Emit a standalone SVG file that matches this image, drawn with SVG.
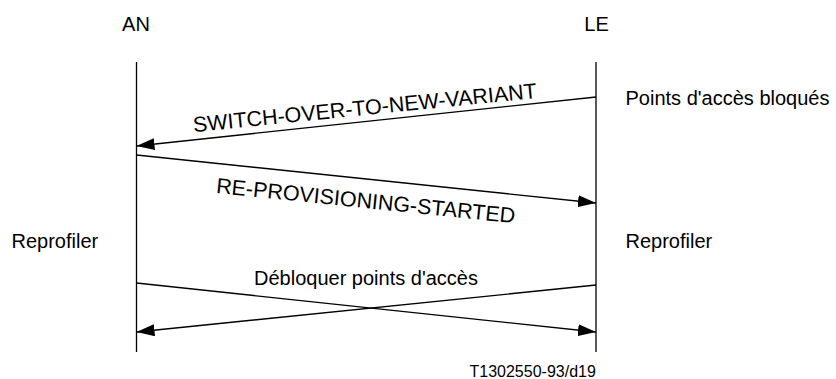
<svg xmlns="http://www.w3.org/2000/svg" width="836" height="379" viewBox="0 0 836 379">
  <defs>
    <marker id="arrow" viewBox="0 0 18 12" refX="18" refY="6" markerWidth="18" markerHeight="12" markerUnits="userSpaceOnUse" orient="auto">
      <path d="M0,0 L18,6 L0,12 Z" fill="#000"/>
    </marker>
    <style>
      text { font-family: "Liberation Sans", Arial, sans-serif; fill: #000; }
      .lbl { font-size: 20px; }
      .msg { font-size: 21.5px; }
      .ref { font-size: 16px; }
      .life { stroke: #000; stroke-width: 1.3; fill: none; }
      .conn { stroke: #000; stroke-width: 1.3; fill: none; marker-end: url(#arrow); }
    </style>
  </defs>
  <rect width="836" height="379" fill="#fff"/>

  <!-- Access Network side -->
  <g id="an">
    <text class="lbl" x="136" y="31" text-anchor="middle">AN</text>
    <line class="life" x1="136.5" y1="62" x2="136.5" y2="352"/>
    <text class="lbl" x="11.5" y="248">Reprofiler</text>
  </g>

  <!-- Local Exchange side -->
  <g id="le">
    <text class="lbl" x="596.5" y="31" text-anchor="middle">LE</text>
    <line class="life" x1="596" y1="62" x2="596" y2="352"/>
    <text class="lbl" x="625.5" y="105">Points d'accès bloqués</text>
    <text class="lbl" x="625.5" y="248">Reprofiler</text>
  </g>

  <!-- Messages -->
  <g id="connectors">
    <line class="conn" x1="596" y1="97" x2="136.5" y2="146"/>
    <line class="conn" x1="136.5" y1="155" x2="596" y2="203"/>
    <line class="conn" x1="136.5" y1="283" x2="596" y2="332"/>
    <line class="conn" x1="596" y1="285" x2="136.5" y2="332"/>
    <text class="msg" x="365.5" y="115" text-anchor="middle" transform="rotate(-5.7 365.5 115)">SWITCH-OVER-TO-NEW-VARIANT</text>
    <text class="msg" x="365" y="208" text-anchor="middle" transform="rotate(5.8 365 208)">RE-PROVISIONING-STARTED</text>
    <text class="lbl" x="366" y="285" text-anchor="middle">Débloquer points d'accès</text>
  </g>

  <text class="ref" x="469.5" y="376.5">T1302550-93/d19</text>
</svg>
